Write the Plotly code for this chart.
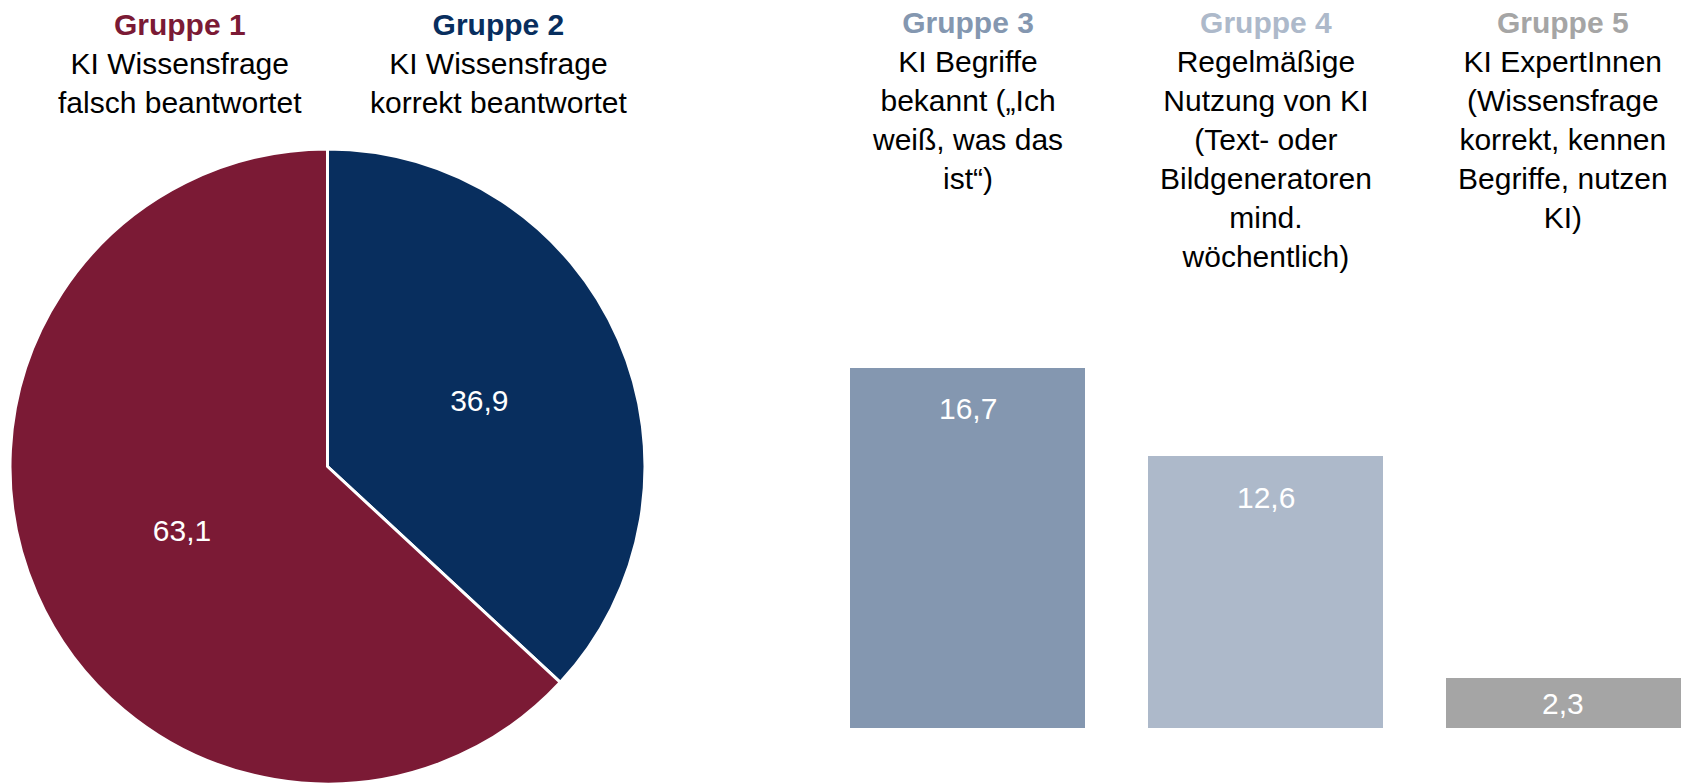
import plotly.graph_objects as go

# Pie: KI Wissensfrage
pie_labels = ["Gruppe 1", "Gruppe 2"]
pie_values = [63.1, 36.9]
pie_colors = ["#7B1A35", "#082E5E"]
pie_captions = [
    "KI Wissensfrage<br>falsch beantwortet",
    "KI Wissensfrage<br>korrekt beantwortet",
]

# Bars: Gruppe 3-5
bar_labels = ["Gruppe 3", "Gruppe 4", "Gruppe 5"]
bar_values = [16.7, 12.6, 2.3]
bar_colors = ["#8497B0", "#ADB9CA", "#A5A5A5"]
bar_captions = [
    "KI Begriffe<br>bekannt („Ich<br>weiß, was das<br>ist“)",
    "Regelmäßige<br>Nutzung von KI<br>(Text- oder<br>Bildgeneratoren<br>mind.<br>wöchentlich)",
    "KI ExpertInnen<br>(Wissensfrage<br>korrekt, kennen<br>Begriffe, nutzen<br>KI)",
]

W, H = 1681, 784
FONT = "Liberation Sans, Arial, sans-serif"
FS = 30

fig = go.Figure()

# plotly puts the first slice right of 12 o'clock, so feed Gruppe 2 first
fig.add_trace(go.Pie(
    labels=pie_labels[::-1], values=pie_values[::-1], sort=False,
    direction="counterclockwise", rotation=0,
    marker=dict(colors=pie_colors[::-1], line=dict(color="white", width=3)),
    texttemplate="%{value:.1f}", textposition="inside",
    insidetextorientation="horizontal",
    textfont=dict(color="white", size=FS, family=FONT),
    domain=dict(x=[10 / W, 645 / W], y=[0, 635 / H]),
    hoverinfo="skip", showlegend=False,
))

fig.add_trace(go.Bar(
    x=list(range(len(bar_values))), y=bar_values,
    marker=dict(color=bar_colors, line=dict(width=0)),
    width=0.79, hoverinfo="skip", showlegend=False,
))

annotations = []
# value labels inside bars (inside end, centred if the bar is too short)
for i, v in enumerate(bar_values):
    annotations.append(dict(
        x=i, y=max(v - 1.9, v / 2), xref="x", yref="y",
        text=f"{v:.1f}".replace(".", ","), showarrow=False,
        font=dict(color="white", size=FS, family=FONT), yanchor="middle",
    ))

# group headers
pie_x = [180 / W, 498 / W]
for name, cap, col, px_ in zip(pie_labels, pie_captions, pie_colors, pie_x):
    annotations.append(dict(
        x=px_, y=1, xref="paper", yref="paper", xanchor="center", yanchor="top",
        yshift=-6,
        text=f"<b><span style='color:{col}'>{name}</span></b><br>{cap}",
        showarrow=False, align="center",
        font=dict(color="black", size=FS, family=FONT),
    ))
for i, (name, cap, col) in enumerate(zip(bar_labels, bar_captions, bar_colors)):
    annotations.append(dict(
        x=i, y=1, xref="x", yref="paper", xanchor="center", yanchor="top",
        yshift=-4,
        text=f"<b><span style='color:{col}'>{name}</span></b><br>{cap}",
        showarrow=False, align="center",
        font=dict(color="black", size=FS, family=FONT),
    ))

fig.update_layout(
    width=W, height=H,
    margin=dict(l=0, r=0, t=0, b=0),
    paper_bgcolor="white", plot_bgcolor="white",
    separators=",.",
    font=dict(family=FONT, size=FS),
    xaxis=dict(visible=False, range=[-0.5, 2.395], domain=[819 / W, 1]),
    yaxis=dict(visible=False, range=[0, 26.7], domain=[56 / H, 632 / H]),
    annotations=annotations,
    bargap=0,
)

# drop the browser's default page margin so the figure fills the window
fig.write_html(
    "out.html",
    config={"displayModeBar": False},
    post_script="document.body.style.margin='0';document.body.style.overflow='hidden';",
)
